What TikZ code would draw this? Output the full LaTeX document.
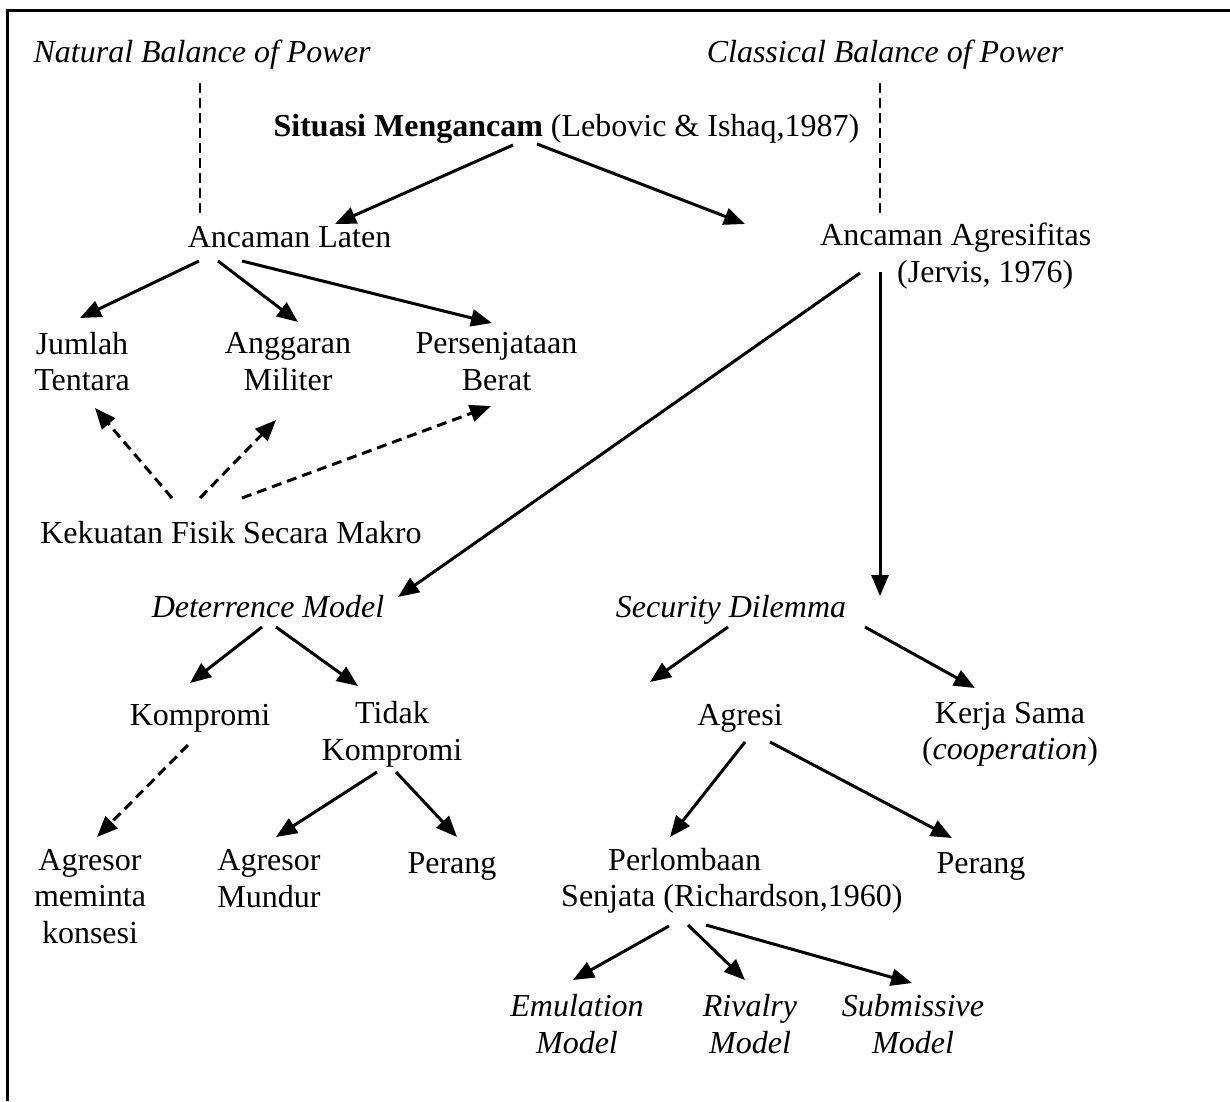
\documentclass[tikz,border=0pt]{standalone}
\usepackage{fontspec}
\setmainfont{Liberation Serif}
\usetikzlibrary{arrows.meta}
\newcommand\dgfont{\fontsize{32}{36.5}\selectfont}
\begin{document}
\begin{tikzpicture}[x=1pt,y=-1pt,
  txt/.style={inner sep=0pt, font=\dgfont, align=center,
    execute at begin node=\strut, execute at end node=\strut},
  arr/.style={line width=3pt, -{Triangle[length=21pt,width=17pt]}},
  darr/.style={line width=3pt, dash pattern=on 10pt off 6pt, -{Triangle[length=21pt,width=17pt]}},
  dline/.style={line width=2.6pt, dash pattern=on 10pt off 5pt}]
\useasboundingbox (0,0) rectangle (1230,1101);
\coordinate (tl) at (7,10);
\coordinate (tr) at (1230,10);
\coordinate (bl) at (7,1101);
\draw[line width=3pt] (tr) -- (tl) -- (bl);

\node[txt] (nat) at (202,54.7) {\itshape Natural Balance of Power};
\node[txt] (cla) at (885,54.7) {\itshape Classical Balance of Power};
\node[txt] (sit) at (566.5,128.7) {\textbf{Situasi Mengancam} (Lebovic \& Ishaq,1987)};
\node[txt] (lat) at (289.5,239.7) {Ancaman Laten};
\node[txt, anchor=west, align=left] (agr) at (820,258.2) {Ancaman Agresifitas\\\hspace*{77pt}(Jervis, 1976)};
\node[txt] (jt) at (82,366.9) {Jumlah\\Tentara};
\node[txt] (am) at (288,366.9) {Anggaran\\Militer};
\node[txt] (pb) at (496.5,366.9) {Persenjataan\\Berat};
\node[txt] (kfm) at (231,535.7) {Kekuatan Fisik Secara Makro};
\node[txt] (det) at (268,609.7) {\itshape Deterrence Model};
\node[txt] (sd) at (731,609.7) {\itshape Security Dilemma};
\node[txt] (komp) at (200,717.7) {Kompromi};
\node[txt] (tk) at (392,736.2) {Tidak\\Kompromi};
\node[txt] (ag1) at (90,901.7) {Agresor\\meminta\\konsesi};
\node[txt] (agm) at (269,883.7) {Agresor\\Mundur};
\node[txt] (per1) at (452,865.7) {Perang};
\node[txt] (agresi) at (740,717.7) {Agresi};
\node[txt] (ks) at (1010,736.2) {Kerja Sama\\(\emph{cooperation})};
\node[txt, anchor=west, align=left] (pls) at (561,882.7) {\hspace*{47pt}Perlombaan\\Senjata (Richardson,1960)};
\node[txt] (per2) at (981,865.7) {Perang};
\node[txt] (em) at (577,1029.2) {\itshape Emulation\\\itshape Model};
\node[txt] (rv) at (750,1029.2) {\itshape Rivalry\\\itshape Model};
\node[txt] (sub) at (913,1029.2) {\itshape Submissive\\\itshape Model};

% dashed guide lines
\draw[dline] ([shift={(-2,28.3)}]nat.center) -- ([shift={(-89.5,-26.7)}]lat.center);
\draw[dline] ([shift={(-5,28.3)}]cla.center) -- ([shift={(60,-45.2)}]agr.west);

% solid arrows
\draw[arr] ([shift={(-53.5,16.3)}]sit.center) -- ([shift={(45.5,-15.7)}]lat.center);
\draw[arr] ([shift={(-29.5,15.3)}]sit.center) -- ([shift={(-75,-34.2)}]agr.west);
\draw[arr] ([shift={(-90.5,21.3)}]lat.center) -- ([shift={(-2,-48.9)}]jt.center);
\draw[arr] ([shift={(-71.5,21.3)}]lat.center) -- ([shift={(10,-44.9)}]am.center);
\draw[arr] ([shift={(-47.5,21.3)}]lat.center) -- ([shift={(-4.5,-43.9)}]pb.center);
\draw[arr] ([shift={(40,14.8)}]agr.west) -- ([shift={(130,-12.7)}]det.center);
\draw[arr] ([shift={(60,13.8)}]agr.west) -- ([shift={(149,-13.7)}]sd.center);
\draw[arr] ([shift={(-6,17.3)}]det.center) -- ([shift={(-10,-34.7)}]komp.center);
\draw[arr] ([shift={(8,17.3)}]det.center) -- ([shift={(-34,-50.2)}]tk.center);
\draw[arr] ([shift={(-15,35.8)}]tk.center) -- ([shift={(7,-46.7)}]agm.center);
\draw[arr] ([shift={(4,35.8)}]tk.center) -- ([shift={(5,-28.7)}]per1.center);
\draw[arr] ([shift={(-3,17.3)}]sd.center) -- ([shift={(-90,-35.7)}]agresi.center);
\draw[arr] ([shift={(134,17.3)}]sd.center) -- ([shift={(-35,-48.2)}]ks.center);
\draw[arr] ([shift={(5,24.3)}]agresi.center) -- ([shift={(109,-45.7)}]pls.west);
\draw[arr] ([shift={(30,24.3)}]agresi.center) -- ([shift={(-29,-27.7)}]per2.center);
\draw[arr] ([shift={(108,43.3)}]pls.west) -- ([shift={(-4,-49.2)}]em.center);
\draw[arr] ([shift={(127,42.3)}]pls.west) -- ([shift={(-5,-49.2)}]rv.center);
\draw[arr] ([shift={(145,42.3)}]pls.west) -- ([shift={(-1,-46.2)}]sub.center);

% dashed arrows
\draw[darr] ([shift={(-59,-37.7)}]kfm.center) -- ([shift={(13,41.1)}]jt.center);
\draw[darr] ([shift={(-31,-37.7)}]kfm.center) -- ([shift={(-12,53.1)}]am.center);
\draw[darr] ([shift={(11,-37.7)}]kfm.center) -- ([shift={(-5.5,39.1)}]pb.center);
\draw[darr] ([shift={(-12,27.3)}]komp.center) -- ([shift={(7,-64.7)}]ag1.center);
\end{tikzpicture}
\end{document}
